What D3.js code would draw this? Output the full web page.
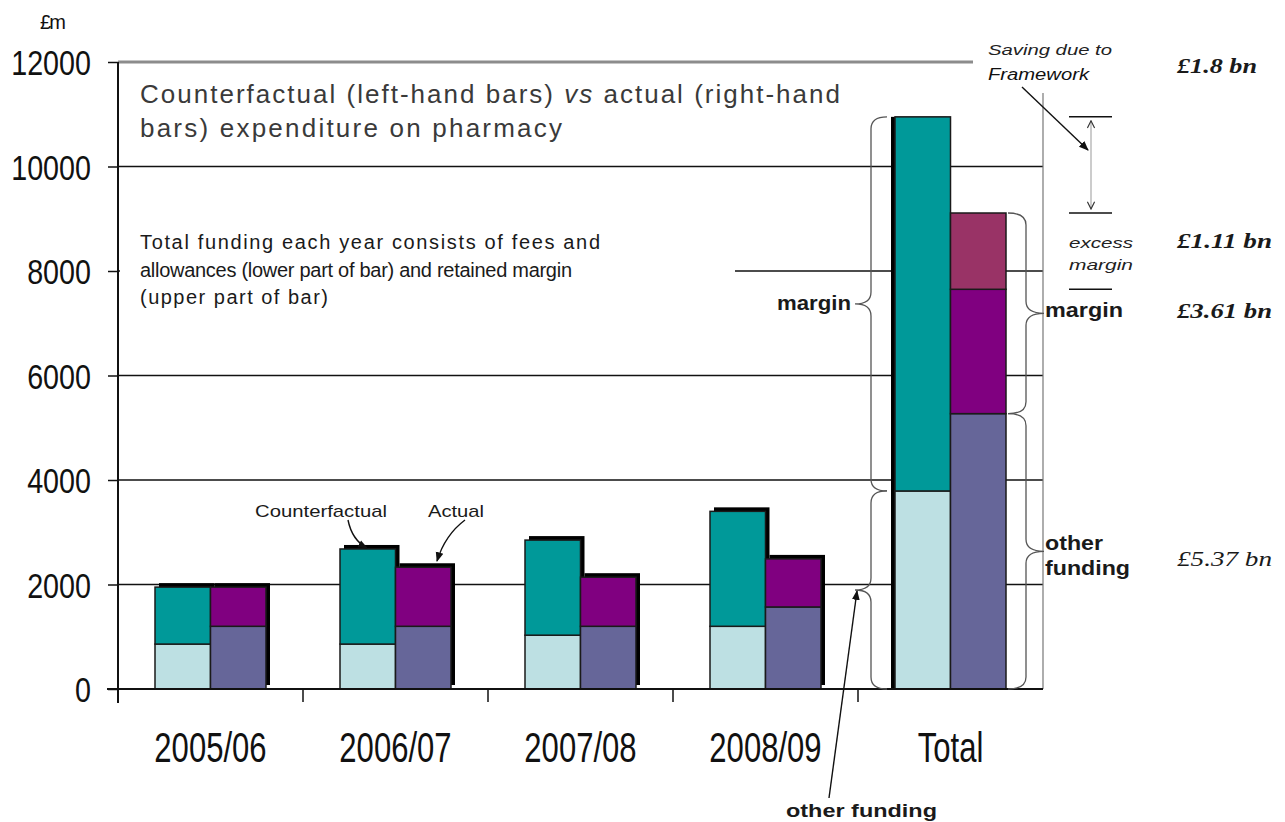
<!DOCTYPE html>
<html lang="en">
<head>
<meta charset="UTF-8">
<title>Counterfactual vs actual expenditure on pharmacy</title>
<script src="https://d3js.org/d3.v7.min.js"></script>
<style>
  body { margin: 0; background: #fff; }
  svg { display: block; font-family: "Liberation Sans", Arial, sans-serif; }
  .serif { font-family: "Liberation Serif", "Times New Roman", serif; }
</style>
</head>
<body>
<svg id="chart" width="1285" height="822"></svg>
<script>
var categories = ["2005/06", "2006/07", "2007/08", "2008/09", "Total"];
// counterfactual (left-hand bar): other funding + margin
var cfOther  = [860, 860, 1030, 1200, 3790];
var cfMargin = [1090, 1820, 1820, 2200, 7160];
// actual (right-hand bar): other funding + margin + excess margin
var actOther  = [1200, 1200, 1200, 1570, 5270];
var actMargin = [750, 1130, 940, 920, 2380];
var actExcess = [0, 0, 0, 0, 1460];
var yTicks = [0, 2000, 4000, 6000, 8000, 10000, 12000];

var colors = {
    cfOther: "#bde0e3", cfMargin: "#009999",
    actOther: "#666699", actMargin: "#800080", actExcess: "#993366"
};

var svg = d3.select("#chart");

var y = d3.scaleLinear().domain([0, 12000]).range([689, 62]);
var x = d3.scaleBand().domain(categories).range([118, 1043]);
var bw = x.bandwidth();
var barW = bw * 0.3;

var defs = svg.append("defs");
defs.append("marker").attr("id", "head")
    .attr("viewBox", "0 0 10 10").attr("refX", 9).attr("refY", 5)
    .attr("markerWidth", 7).attr("markerHeight", 7).attr("orient", "auto")
    .append("path").attr("d", "M0,1 L10,5 L0,9 Z").attr("fill", "#111");
defs.append("marker").attr("id", "chev")
    .attr("viewBox", "0 0 10 10").attr("refX", 9).attr("refY", 5)
    .attr("markerWidth", 9).attr("markerHeight", 9).attr("orient", "auto-start-reverse")
    .append("path").attr("d", "M1,1 L9,5 L1,9").attr("fill", "none").attr("stroke", "#333").attr("stroke-width", 1.3);

// gridlines
svg.append("g").selectAll("line")
    .data(yTicks.filter(d => d > 0 && d < 12000))
    .enter().append("line")
    .attr("x1", 118).attr("x2", 1043)
    .attr("y1", d => y(d)).attr("y2", d => y(d))
    .attr("stroke", "#111").attr("stroke-width", 1.3);
svg.append("line")
    .attr("x1", 118).attr("x2", 973).attr("y1", y(12000)).attr("y2", y(12000))
    .attr("stroke", "#8c8c8c").attr("stroke-width", 3);

// right hand vertical rule
svg.append("line")
    .attr("x1", 1043).attr("x2", 1043).attr("y1", 93).attr("y2", y(0))
    .attr("stroke", "#777").attr("stroke-width", 1.2);

// text boxes
var title = svg.append("text").attr("font-size", 26).attr("fill", "#3a3a3a");
title.append("tspan").attr("x", 140).attr("y", 103).attr("textLength", 700)
    .text("Counterfactual (left-hand bars) ")
    .append("tspan").attr("font-style", "italic").text("vs");
title.select("tspan").append("tspan").text(" actual (right-hand");
svg.append("text").attr("font-size", 26).attr("fill", "#3a3a3a")
    .attr("x", 140).attr("y", 137).attr("textLength", 422)
    .text("bars) expenditure on pharmacy");

svg.append("rect").attr("x", 120).attr("y", 226).attr("width", 615).attr("height", 86).attr("fill", "#fff");
var sub = ["Total funding each year consists of fees and",
           "allowances (lower part of bar) and retained margin",
           "(upper part of bar)"];
var subLen = [460, 432, 188];
svg.append("g").selectAll("text").data(sub).enter().append("text")
    .attr("x", 140).attr("y", (d, i) => 249 + i * 27.5)
    .attr("textLength", (d, i) => subLen[i])
    .attr("font-size", 20).attr("fill", "#1a1a1a")
    .text(d => d);

// bars
var rows = categories.map((c, i) => ({
    cat: c, cfOther: cfOther[i], cfMargin: cfMargin[i],
    actOther: actOther[i], actMargin: actMargin[i], actExcess: actExcess[i]
}));
var cfStack = d3.stack().keys(["cfOther", "cfMargin"])(rows);
var actStack = d3.stack().keys(["actOther", "actMargin", "actExcess"])(rows);

function left(c) { return x(c) + bw / 2 - barW; }

// drop shadows
var shadow = svg.append("g").attr("fill", "#000");
shadow.selectAll("rect.cf").data(rows).enter().append("rect")
    .attr("x", d => left(d.cat) + (d.cat === "Total" ? -4 : 4))
    .attr("y", d => y(d.cfOther + d.cfMargin) - (d.cat === "Total" ? 0 : 4))
    .attr("width", barW)
    .attr("height", d => y(0) - y(d.cfOther + d.cfMargin));
shadow.selectAll("rect.act").data(rows.filter(d => d.cat !== "Total")).enter().append("rect")
    .attr("x", d => left(d.cat) + barW + 4)
    .attr("y", d => y(d.actOther + d.actMargin + d.actExcess) - 4)
    .attr("width", barW)
    .attr("height", d => y(0) - y(d.actOther + d.actMargin + d.actExcess));

function drawStack(stack, dx) {
    svg.append("g").selectAll("g").data(stack).enter().append("g")
        .attr("fill", s => colors[s.key])
        .selectAll("rect").data(s => s).enter().append("rect")
        .filter(d => d[1] > d[0])
        .attr("x", d => left(d.data.cat) + dx)
        .attr("y", d => y(d[1]))
        .attr("width", barW)
        .attr("height", d => y(d[0]) - y(d[1]))
        .attr("stroke", "#1a1a1a").attr("stroke-width", 1.5);
}
drawStack(cfStack, 0);
drawStack(actStack, barW);

// axes
var yAxis = svg.append("g").attr("transform", "translate(118,0)")
    .call(d3.axisLeft(y).tickValues(yTicks).tickSize(10).tickFormat(d3.format("d")));
yAxis.select(".domain").remove();
yAxis.selectAll("line").attr("stroke", "#111").attr("stroke-width", 1.5);
yAxis.selectAll("text")
    .attr("font-family", "'Liberation Sans', Arial, sans-serif")
    .attr("font-size", 35).attr("fill", "#111")
    .attr("x", -27 / 0.82).attr("dy", "0.36em")
    .attr("transform", "scale(0.82,1)");
svg.append("line").attr("x1", 118).attr("x2", 118).attr("y1", y(12000)).attr("y2", 703)
    .attr("stroke", "#111").attr("stroke-width", 2);
svg.append("line").attr("x1", 107).attr("x2", 1043).attr("y1", y(0)).attr("y2", y(0))
    .attr("stroke", "#111").attr("stroke-width", 2);
svg.append("g").selectAll("line").data(categories).enter().append("line")
    .attr("x1", d => x(d)).attr("x2", d => x(d))
    .attr("y1", y(0)).attr("y2", 702)
    .attr("stroke", "#111").attr("stroke-width", 1.5);
svg.append("g").selectAll("text").data(categories).enter().append("text")
    .attr("transform", d => "translate(" + (x(d) + bw / 2) + ",762) scale(0.74,1)")
    .attr("text-anchor", "middle").attr("font-size", 42).attr("fill", "#111")
    .text(d => d);

svg.append("text").attr("x", 53).attr("y", 29).attr("font-size", 20).attr("fill", "#111")
    .attr("text-anchor", "middle").attr("textLength", 26).text("£m");

// braces
function brace(x0, xv, xt, y1, y2) {
    var r = 12, ym = (y1 + y2) / 2;
    return "M" + x0 + "," + y1 + " Q" + xv + "," + y1 + " " + xv + "," + (y1 + r) +
        " L" + xv + "," + (ym - r) + " Q" + xv + "," + ym + " " + xt + "," + ym +
        " Q" + xv + "," + ym + " " + xv + "," + (ym + r) +
        " L" + xv + "," + (y2 - r) + " Q" + xv + "," + y2 + " " + x0 + "," + y2;
}
var t = rows[4];
var cfTop = y(t.cfOther + t.cfMargin), cfMid = y(t.cfOther);
var actTop = y(t.actOther + t.actMargin + t.actExcess), actMarg = y(t.actOther + t.actMargin), actMid = y(t.actOther);
var bx = left("Total");
var braces = svg.append("g").attr("fill", "none").attr("stroke", "#555").attr("stroke-width", 1.3);
braces.append("path").attr("d", brace(bx - 8, bx - 24, bx - 40, cfTop, cfMid));
braces.append("path").attr("d", brace(bx - 8, bx - 24, bx - 40, cfMid, y(0)));
braces.append("path").attr("d", brace(bx + 2 * barW + 2, bx + 2 * barW + 20, bx + 2 * barW + 38, actTop, actMid));
braces.append("path").attr("d", brace(bx + 2 * barW + 2, bx + 2 * barW + 20, bx + 2 * barW + 38, actMid, y(0)));

// saving markers
var marks = svg.append("g").attr("stroke", "#111").attr("stroke-width", 1.5);
[cfTop, actTop, actMarg].forEach(v => {
    marks.append("line").attr("x1", 1069).attr("x2", 1112).attr("y1", v).attr("y2", v);
});
svg.append("line").attr("x1", 1091).attr("x2", 1091).attr("y1", cfTop + 4).attr("y2", actTop - 4)
    .attr("stroke", "#999").attr("stroke-width", 1)
    .attr("marker-start", "url(#chev)").attr("marker-end", "url(#chev)");

// pointer arrows
var arrows = svg.append("g").attr("fill", "none").attr("stroke", "#111").attr("stroke-width", 1.4)
    .attr("marker-end", "url(#head)");
arrows.append("path").attr("d", "M1022,87 L1088,150");
arrows.append("path").attr("d", "M829,798 L857,591");
arrows.append("path").attr("d", "M348,520 Q352,540 367,548");
arrows.append("path").attr("d", "M465,520 Q445,535 437,561");

// annotations
function label(txt, xx, yy, opts) {
    var el = svg.append("text").attr("x", xx).attr("y", yy)
        .attr("font-size", opts.size || 17).attr("fill", opts.fill || "#1a1a1a")
        .text(txt);
    if (opts.len) el.attr("textLength", opts.len).attr("lengthAdjust", "spacingAndGlyphs");
    if (opts.italic) el.attr("font-style", "italic");
    if (opts.bold) el.attr("font-weight", "bold");
    if (opts.serif) el.attr("class", "serif");
    return el;
}
label("Counterfactual", 255, 517, { size: 17, len: 132 });
label("Actual", 428, 517, { size: 17, len: 56 });
label("margin", 777, 310, { size: 20, bold: true, len: 74 });
label("other funding", 786, 817, { size: 18, bold: true, len: 151 });
label("Saving due to", 988, 55, { size: 15, italic: true, len: 124, fill: "#222" });
label("Framework", 988, 80, { size: 16, italic: true, len: 101, fill: "#111" });
label("excess", 1069, 248, { size: 15, italic: true, len: 64, fill: "#222" });
label("margin", 1069, 270, { size: 15, italic: true, len: 64, fill: "#222" });
label("margin", 1045, 317, { size: 20, bold: true, len: 78 });
label("other", 1045, 550, { size: 20, bold: true, len: 58 });
label("funding", 1045, 575, { size: 20, bold: true, len: 85 });
label("£1.8 bn", 1177, 73, { size: 21, bold: true, italic: true, serif: true, len: 80 });
label("£1.11 bn", 1177, 248, { size: 21, bold: true, italic: true, serif: true, len: 95 });
label("£3.61 bn", 1177, 318, { size: 21, bold: true, italic: true, serif: true, len: 95 });
label("£5.37 bn", 1177, 566, { size: 21, italic: true, serif: true, len: 95 });
</script>
</body>
</html>
